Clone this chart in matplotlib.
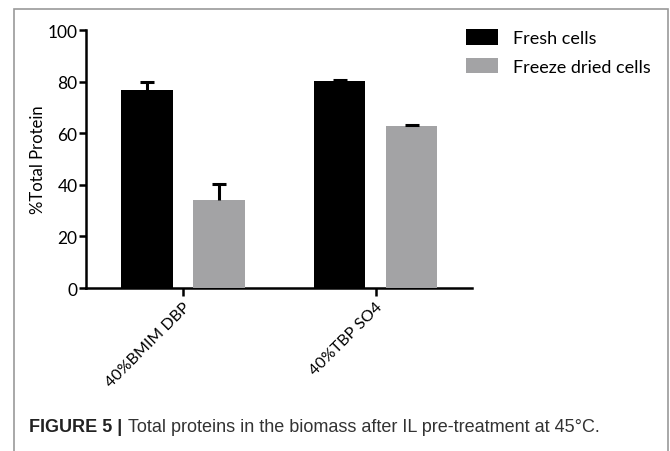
import matplotlib
matplotlib.use("Agg")
import matplotlib.pyplot as plt
import matplotlib.patches as mpatches
import numpy as np

# ─── Data ────────────────────────────────────────────────────────────────────
categories = ["40%BMIM DBP", "40%TBP SO4"]
fresh = [76.9, 80.4]
fresh_err = [2.8, 0.3]
freeze = [34.1, 62.6]
freeze_err = [6.2, 0.5]
series_labels = ["Fresh cells", "Freeze dried cells"]

FRESH_COLOR = "#000000"
FREEZE_COLOR = "#a3a3a5"
AX_FONT = "Lato"
CAP_FONT = "Liberation Sans"

fig = plt.figure(figsize=(6.7, 4.52), dpi=100)

# outer panel border
fig.patches.append(mpatches.Rectangle((14 / 670, -0.05), 654 / 670, 1 - 10 / 452 + 0.05,
                                      transform=fig.transFigure, fill=False,
                                      edgecolor="#9a9a9a", linewidth=1.2))

ax = fig.add_axes([0.128, 0.3606, 0.576, 0.5708])

x = np.arange(len(categories))
width = 0.266
offset = 0.187

ax.bar(x - offset, fresh, width, color=FRESH_COLOR, zorder=3, label=series_labels[0])
ax.bar(x + offset, freeze, width, color=FREEZE_COLOR, zorder=3, label=series_labels[1])

# upper-only error bars
for xs, vals, errs in [(x - offset, fresh, fresh_err), (x + offset, freeze, freeze_err)]:
    eb = ax.errorbar(xs, vals, yerr=[np.zeros(len(vals)), errs], fmt="none",
                     ecolor="black", elinewidth=2.2, capsize=5, capthick=2.2, zorder=4)
    eb[1][0].remove()  # drop lower caps

ax.set_xlim(-0.504, 1.498)
ax.set_ylim(0, 100)
ax.set_yticks([0, 20, 40, 60, 80, 100])
ax.set_xticks(x)
ax.set_xticklabels(categories, rotation=45, ha="right", rotation_mode="anchor",
                   fontsize=11.5, family=AX_FONT)
for lbl in ax.get_yticklabels():
    lbl.set_family(AX_FONT)
    lbl.set_fontsize(12.5)
ax.tick_params(axis="y", length=5, width=1.8, pad=1)
ax.tick_params(axis="x", length=6, width=1.8, pad=2)
ax.set_ylabel("%Total Protein", fontsize=12, family=AX_FONT, labelpad=1)

for side in ["top", "right"]:
    ax.spines[side].set_visible(False)
for side in ["left", "bottom"]:
    ax.spines[side].set_linewidth(1.8)

ax.legend(loc="upper left", bbox_to_anchor=(466 / 670, 1 - 30 / 452),
          bbox_transform=fig.transFigure, frameon=False,
          prop={"family": AX_FONT, "size": 13},
          handlelength=1.75, handleheight=0.95, handletextpad=0.85, labelspacing=0.65,
          borderaxespad=0, borderpad=0)

# caption: bold figure tag then regular text
cap_y = 1 - 428 / 452
fig.text(29 / 670, cap_y, "FIGURE 5 |", fontsize=13, fontweight="bold",
         family=CAP_FONT, va="center", ha="left", color="#222222")
fig.text(128 / 670, cap_y, "Total proteins in the biomass after IL pre-treatment at 45°C.",
         fontsize=13, family=CAP_FONT, va="center", ha="left", color="#333333")

fig.savefig("out.png", dpi=100)
